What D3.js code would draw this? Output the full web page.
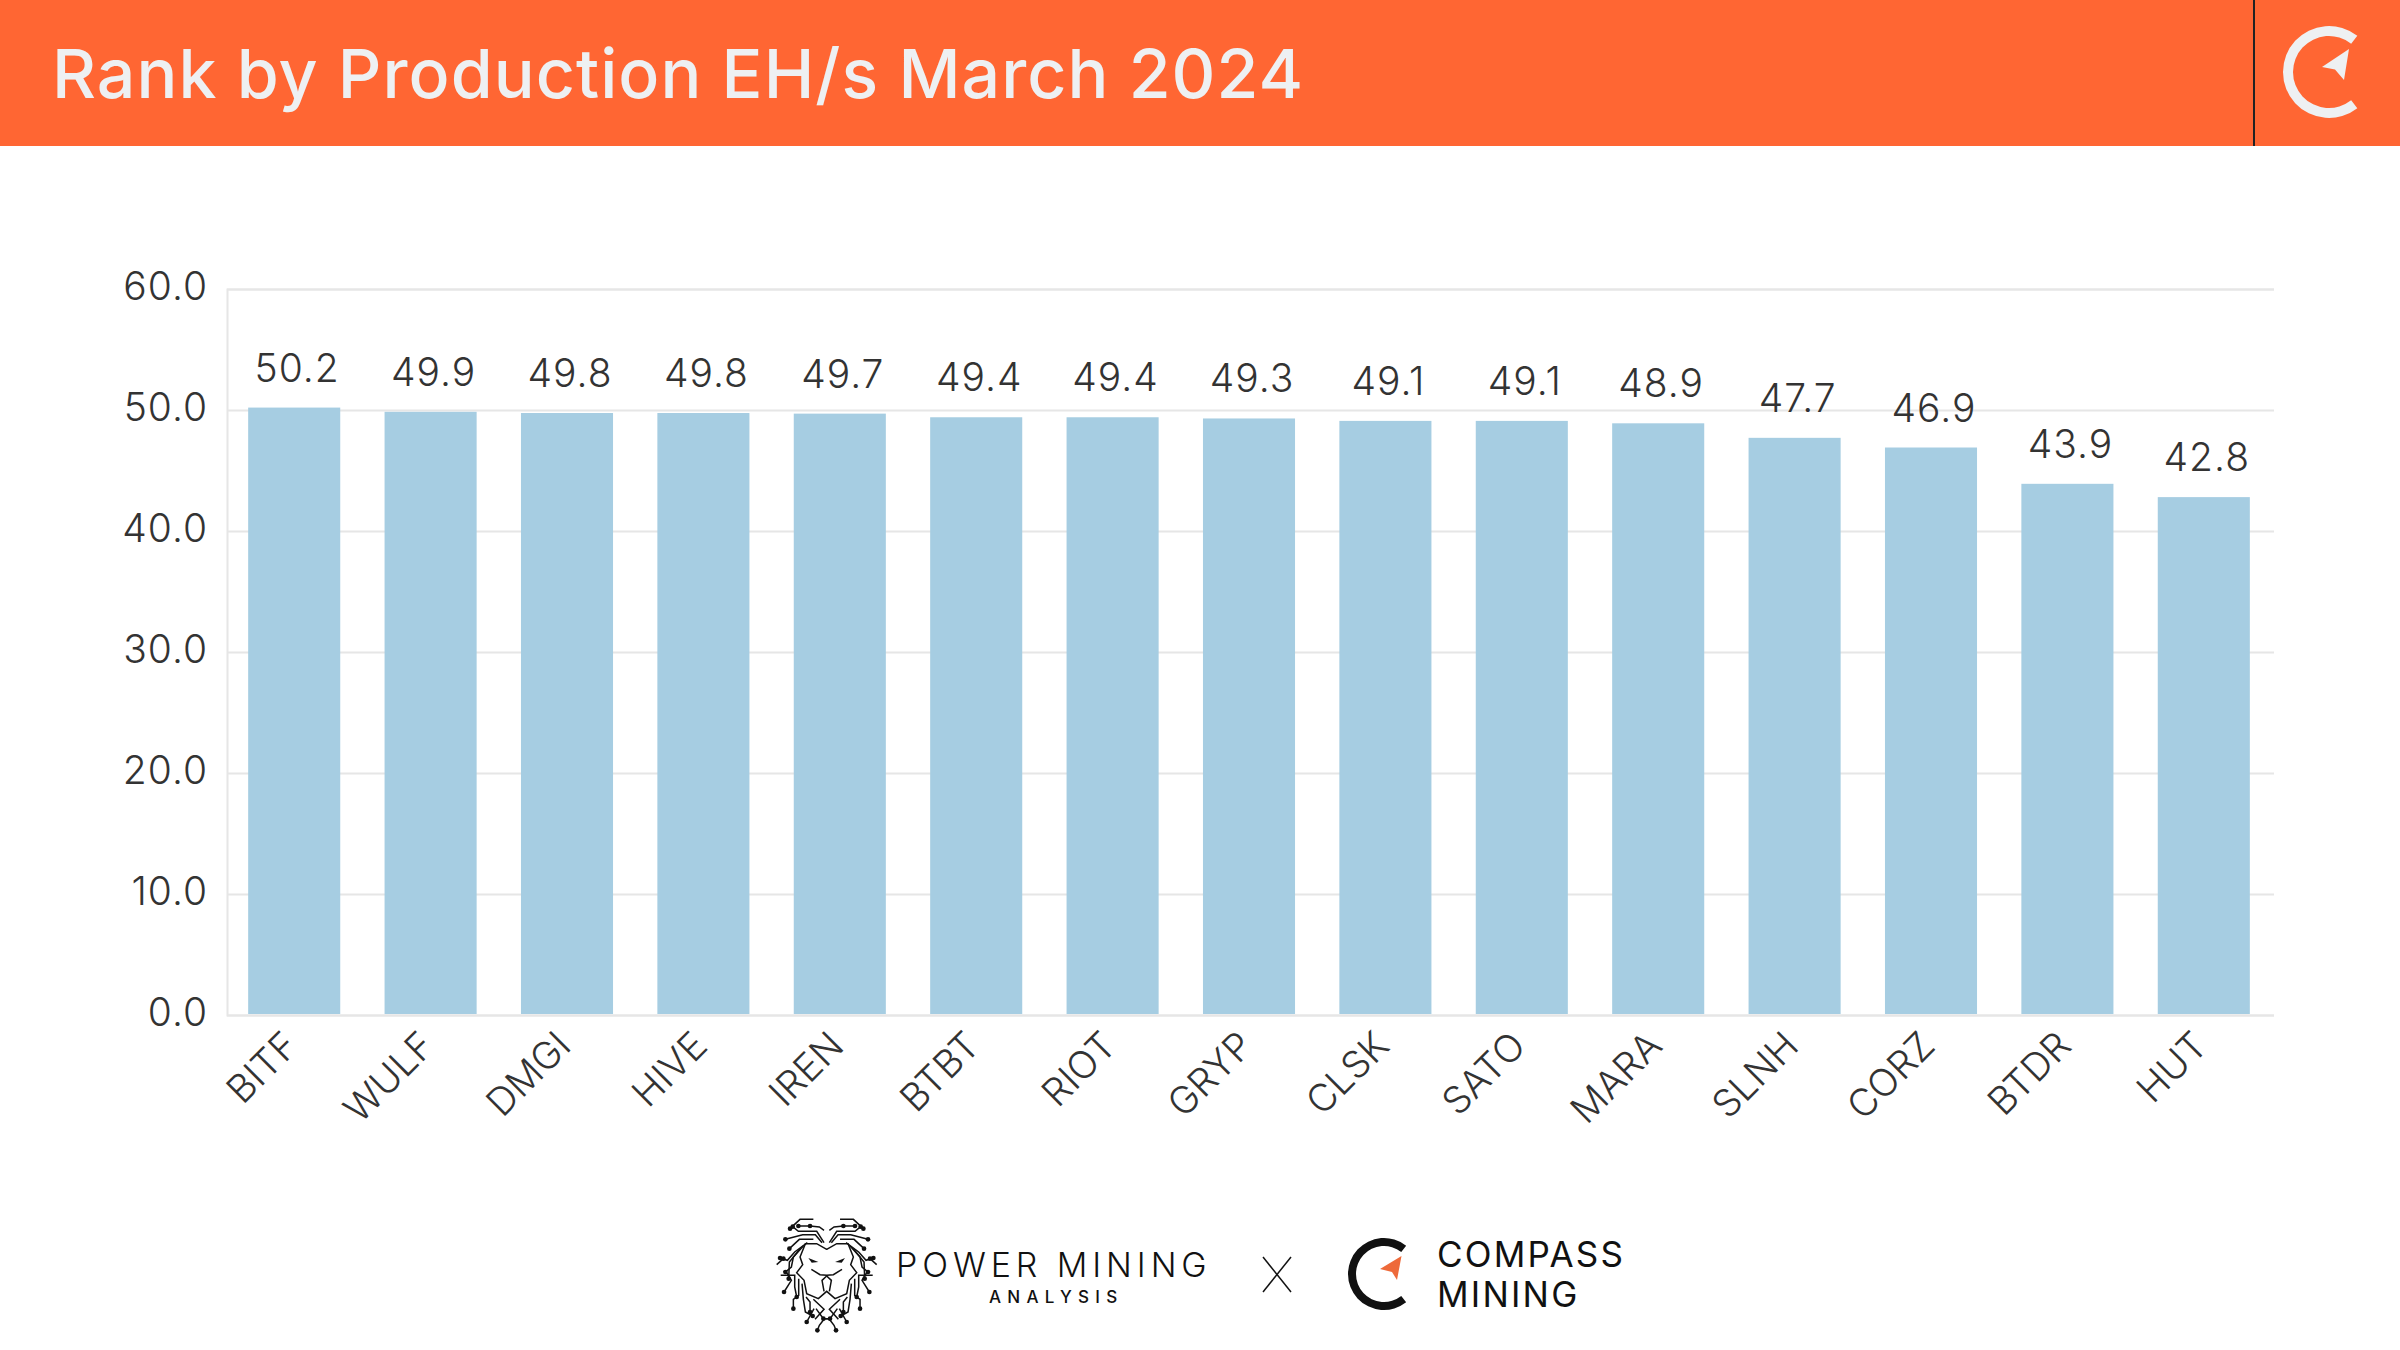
<!DOCTYPE html>
<html>
<head>
<meta charset="utf-8">
<script src="https://cdn.jsdelivr.net/npm/d3@7"></script>
<style>
  html, body { margin: 0; padding: 0; background: #fff; }
  text { font-family: Inter, "Noto Sans", sans-serif; }
</style>
</head>
<body>
<div id="chart"></div>
<script>
var tickers = ["BITF","WULF","DMGI","HIVE","IREN","BTBT","RIOT","GRYP","CLSK","SATO","MARA","SLNH","CORZ","BTDR","HUT"];
var production = [50.2,49.85,49.75,49.75,49.7,49.4,49.4,49.3,49.1,49.1,48.9,47.7,46.9,43.9,42.8];
var yTicks = [0,10,20,30,40,50,60];
var title = "Rank by Production EH/s March 2024";

var width = 2400, height = 1350;
var orange = "#FF6633", ink = "#333333", grid = "#E6E6E6", bar = "#A6CDE2";

var svg = d3.select("#chart").append("svg")
  .attr("width", width)
  .attr("height", height)
  .style("display", "block");

// header band
svg.append("rect").attr("width", width).attr("height", 146).attr("fill", orange);
svg.append("rect").attr("x", 2253).attr("width", 2).attr("height", 146).attr("fill", "#222");
svg.append("text").attr("x", 52).attr("y", 98)
  .attr("font-size", 68).attr("font-weight", 500).attr("letter-spacing", 1.05).attr("fill", "#EEF0F2")
  .text(title);

function compassMark(g, r, inner, fill) {
  var arc = d3.arc().innerRadius(inner).outerRadius(r)
    .startAngle(142 * Math.PI / 180).endAngle(398 * Math.PI / 180);
  g.append("path").attr("d", arc()).attr("fill", fill);
}

var headMark = svg.append("g").attr("transform", "translate(2329,72)");
compassMark(headMark, 46, 36, "#EEF0F2");
headMark.append("path").attr("d", d3.line()([[20,-23],[-7,-5],[6,-2.5],[15,8]]) + "Z").attr("fill", "#EEF0F2");

// chart
var x = d3.scaleBand().domain(tickers).range([226, 2272]).paddingInner(0.325).paddingOuter(0.1625);
var y = d3.scaleLinear().domain([0, 60]).range([1015, 289]);

var yAxis = svg.append("g").attr("transform", "translate(227,0)")
  .call(d3.axisLeft(y).tickValues(yTicks).tickFormat(d3.format(".1f")).tickSize(-2047).tickPadding(19));
yAxis.select(".domain").attr("stroke", grid).attr("stroke-width", 2);
yAxis.selectAll(".tick line").attr("stroke", grid).attr("stroke-width", 2);
yAxis.selectAll(".tick text").attr("font-family", "Inter").attr("font-size", 39).attr("font-weight", 300)
  .attr("letter-spacing", 1).attr("fill", ink).attr("dy", "0.26em");

svg.selectAll("rect.bar")
  .data(production)
  .enter()
  .append("rect")
  .attr("class", "bar")
  .attr("x", function(d, i) { return x(tickers[i]); })
  .attr("y", function(d) { return y(d); })
  .attr("width", x.bandwidth())
  .attr("height", function(d) { return y(0) - y(d) - 1; })
  .attr("fill", bar);

svg.selectAll("text.val")
  .data(production)
  .enter()
  .append("text")
  .attr("class", "val")
  .attr("x", function(d, i) { return x(tickers[i]) + x.bandwidth() / 2 + 3; })
  .attr("y", function(d) { return y(d) - 26; })
  .attr("text-anchor", "middle")
  .attr("font-size", 39)
  .attr("font-weight", 300)
  .attr("letter-spacing", 1)
  .attr("fill", ink)
  .text(function(d) { return d3.format(".1f")(d); });

var xAxis = svg.append("g").attr("transform", "translate(0,1015)")
  .call(d3.axisBottom(x).tickSize(0));
xAxis.select(".domain").remove();
xAxis.selectAll(".tick text")
  .attr("font-family", "Inter").attr("font-size", 38).attr("font-weight", 350).attr("fill", ink)
  .attr("text-anchor", "end")
  .attr("x", 0).attr("y", 0).attr("dy", 0)
  .attr("transform", "translate(6,33) rotate(-45)");

// footer logos
var lion = svg.append("g").attr("transform", "translate(826.7,1212) scale(0.3333)");
var traces = [
  [[40,22],[80,22],[110,50]],
  [[8,55],[22,45],[50,42]],
  [[52,42],[85,42]],
  [[8,92],[30,58],[85,58],[102,44]],
  [[14,92],[34,68],[72,68],[124,82]],
  [[40,82],[82,82],[112,110]],
  [[58,92],[96,120],[118,145],[140,138]],
  [[70,102],[100,135],[106,165],[124,180]],
  [[80,110],[112,150],[114,200]],
  [[120,182],[106,205],[128,240]],
  [[138,190],[96,190],[96,225],[90,255]],
  [[150,158],[130,140]],
  [[84,200],[84,250],[100,262],[100,290]],
  [[74,215],[70,262],[64,300],[42,312]],
  [[62,255],[50,270],[50,300]],
  [[38,290],[60,330]],
  [[8,322],[22,340],[28,355]],
  [[32,290],[10,320],[-10,320]]
];
traces.forEach(function(t) {
  [1, -1].forEach(function(s) {
    var pts = t.map(function(p) { return [s * p[0], p[1]]; });
    lion.append("path").attr("d", d3.line()(pts)).attr("fill", "none").attr("stroke", "#111").attr("stroke-width", 4.5);
    lion.append("circle").attr("cx", pts[pts.length-1][0]).attr("cy", pts[pts.length-1][1]).attr("r", 7).attr("fill", "#111");
  });
});
var face = [
  [[0,112],[30,95],[64,95],[80,135],[72,158],[90,182],[68,205],[60,245],[25,260],[0,238],[-25,260],[-60,245],[-68,205],[-90,182],[-72,158],[-80,135],[-64,95],[-30,95],[0,112]],
  [[-46,172],[-20,188],[0,190],[20,188],[46,172]],
  [[0,192],[14,205],[8,238]],
  [[0,192],[-14,205],[-8,238]],
  [[-40,262],[-8,292],[-35,322]],
  [[40,262],[8,292],[35,322]]
];
face.forEach(function(f) {
  lion.append("path").attr("d", d3.line()(f)).attr("fill", "none").attr("stroke", "#111").attr("stroke-width", 4.5);
});
[[[25,150],[55,138],[45,152]], [[-25,150],[-55,138],[-45,152]]].forEach(function(e) {
  lion.append("path").attr("d", d3.line()(e) + "Z").attr("fill", "#111");
});

svg.append("text").attr("x", 896).attr("y", 1277)
  .attr("font-size", 34).attr("font-weight", 300).attr("letter-spacing", 4.9).attr("fill", "#111").text("POWER MINING");
svg.append("text").attr("x", 989).attr("y", 1303)
  .attr("font-size", 17).attr("font-weight", 500).attr("letter-spacing", 6.3).attr("fill", "#111").text("ANALYSIS");

svg.append("path").attr("d", d3.line()([[1263,1257],[1291,1292]])).attr("stroke", "#111").attr("stroke-width", 1.5);
svg.append("path").attr("d", d3.line()([[1291,1257],[1263,1292]])).attr("stroke", "#111").attr("stroke-width", 1.5);

var footMark = svg.append("g").attr("transform", "translate(1384,1274)");
compassMark(footMark, 36, 28, "#111");
footMark.append("path").attr("d", d3.line()([[17.5,-18],[-4,-5],[8,-2],[13,6]]) + "Z").attr("fill", "#EE6A3A");

svg.append("text").attr("x", 1437).attr("y", 1267)
  .attr("font-size", 35).attr("font-weight", 400).attr("letter-spacing", 2.2).attr("fill", "#111").text("COMPASS");
svg.append("text").attr("x", 1437).attr("y", 1307)
  .attr("font-size", 35).attr("font-weight", 400).attr("letter-spacing", 2.2).attr("fill", "#111").text("MINING");
</script>
</body>
</html>
